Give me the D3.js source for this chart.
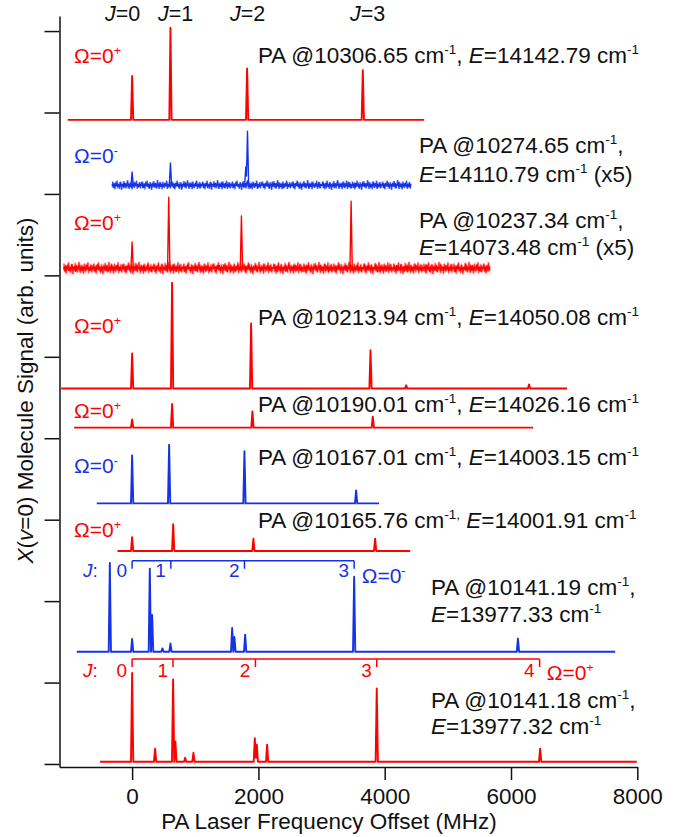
<!DOCTYPE html>
<html><head><meta charset="utf-8">
<script src="https://cdn.jsdelivr.net/npm/d3@7"></script>
<style>
body{margin:0;background:#fff}
svg{display:block;font-family:"Liberation Sans",Arial,Helvetica,sans-serif}
text{white-space:pre}
</style>
</head><body>
<svg id="chart" width="677" height="837"></svg>
<script>
// ---------------- DATA ----------------
const xTickValues = [0, 2000, 4000, 6000, 8000];
const yTickValues = [0, 1, 2, 3, 4, 5, 6, 7, 8, 9];

// trace baselines (arb. units, offset stacking), frequency range (MHz)
const traceBaselines = [7.91, 7.11, 6.09, 4.61, 4.13, 3.20, 2.615, 1.379, 0.028];
const traceRanges = [
  [-1020, 4625], [-322, 4420], [-1090, 5670], [-1124, 6888], [-918, 6350],
  [-560, 3911], [-232, 4403], [-876, 7650], [-507, 7992]
];
// peaks: [frequency offset (MHz), height (arb. units)]
const tracePeaks = [
  [[0, 0.54], [607, 1.13], [1821, 0.63], [3653, 0.61]],
  [[0, 0.16], [607, 0.27], [1800, 0.22], [1827, 0.66]],
  [[0, 0.32], [580, 0.87], [1731, 0.64], [3468, 0.82]],
  [[0, 0.43], [633, 1.30], [1884, 0.80], [3775, 0.47], [4340, 0.04], [6286, 0.05]],
  [[0, 0.10], [633, 0.29], [1905, 0.20], [3811, 0.135]],
  [[0, 0.59], [586, 0.72], [1779, 0.64], [3547, 0.16]],
  [[0, 0.17], [650, 0.33], [1921, 0.15], [3848, 0.15]],
  [[-353, 1.09], [0, 0.155], [280, 1.02], [317, 0.45], [480, 0.04], [607, 0.10],
   [1584, 0.29], [1620, 0.18], [1790, 0.21], [3516, 0.92], [6110, 0.16]],
  [[0, 1.09], [364, 0.16], [649, 1.01], [685, 0.25], [840, 0.05], [971, 0.11],
   [1943, 0.29], [1975, 0.21], [2138, 0.21], [3874, 0.90], [6461, 0.16]]
];
const traceParity = ["+", "-", "+", "+", "+", "-", "+", "-", "+"];
const traceLabels = [
  ["PA @10306.65 cm^{-1}, *E*=14142.79 cm^{-1}"],
  ["PA @10274.65 cm^{-1},", "*E*=14110.79 cm^{-1} (x5)"],
  ["PA @10237.34 cm^{-1},", "*E*=14073.48 cm^{-1} (x5)"],
  ["PA @10213.94 cm^{-1}, *E*=14050.08 cm^{-1}"],
  ["PA @10190.01 cm^{-1}, *E*=14026.16 cm^{-1}"],
  ["PA @10167.01 cm^{-1}, *E*=14003.15 cm^{-1}"],
  ["PA @10165.76 cm^{-1,} *E*=14001.91 cm^{-1}"],
  ["PA @10141.19 cm^{-1},", "*E*=13977.33 cm^{-1}"],
  ["PA @10141.18 cm^{-1},", "*E*=13977.32 cm^{-1}"]
];
const topJLabels = ["*J*=0", "*J*=1", "*J*=2", "*J*=3"];

// rotational assignment brackets
const bracketBlueJ = ["0", "1", "2", "3"];
const bracketBlueFreq = [0, 613, 1779, 3516];
const bracketBlueLevel = 2.496;
const bracketRedJ = ["0", "1", "2", "3", "4"];
const bracketRedFreq = [0, 647, 1953, 3874, 6453];
const bracketRedLevel = 1.289;

const xTitle = "PA Laser Frequency Offset (MHz)";
const yTitle = "*X*(*v*=0) Molecule Signal (arb. units)";

// ---------------- STYLE / LAYOUT ----------------
const RED = "#ff0000", BLUE = "#1432e6", INK = "#111";
const parityColor = p => p === "+" ? RED : BLUE;
const noiseHalf = [0, 5, 6.5, 0, 0, 0, 0, 0, 0];   // px half-height of noise band
// decorative texture tiles used to render the noisy (x5) baselines
const textureA = [0.5,0.15,0.8,0.35,0.95,0.3,0.6,0.05,0.7,0.45,0.9,0.2,0.55,1,0.4,0.65,0.1,0.75,0.3,0.85,
                  0.5,0.0,0.6,0.9,0.25,0.7,0.4,0.95,0.15,0.55,0.8,0.3,0.65,0.05,0.9,0.45,0.7,0.2,0.85,0.5];
const textureB = [0.5,0.7,0.3,0.6,0.2,0.8,0.45,0.55,0.1,0.65,0.4,0.9,0.35,0.6,0.25,0.75,0.5,0.3,0.85,0.45,
                  0.6,0.15,0.5];
const omegaPos = [[74,63],[74,163],[74,230],[74,333],[74,418],[74,473],[74,537]];
const labelPos = [[[258,63]],[[419,153],[419,182]],[[419,228],[419,255]],[[258,325]],[[258,411.5]],
                  [[258,465]],[[258,528]],[[431,595],[431,621.5]],[[431,708],[431,734]]];
const topJPos = [105, 158, 230, 350];
const FS = 22.5;

const svg = d3.select("#chart");
const x = d3.scaleLinear().domain([-1150, 8000]).range([59.5, 637.3]);
const y = d3.scaleLinear().domain([-0.037, 9.185]).range([767, 16]);

function rich(sel, px, py, str, size, color, anchor) {
  const t = sel.append("text").attr("x", px).attr("y", py)
    .attr("font-size", size).attr("fill", color).attr("text-anchor", anchor || "start");
  const toks = str.match(/(\^\{[^}]*\}|\*[^*]*\*|[^\^*]+)/g);
  const shift = size * 0.4;
  let shifted = false;
  toks.forEach(m => {
    let txt = m, sup = false, it = false;
    if (m.startsWith("^{")) { txt = m.slice(2, -1); sup = true; }
    else if (m.startsWith("*")) { txt = m.slice(1, -1); it = true; }
    const ts = t.append("tspan").text(txt);
    if (sup) { ts.attr("font-size", size * 0.6).attr("dy", -shift); shifted = true; }
    else if (shifted) { ts.attr("dy", shift); shifted = false; }
    if (it) ts.attr("font-style", "italic");
  });
  return t;
}

// ---------- axes ----------
const xAxis = svg.append("g").attr("transform", `translate(0,${y(-0.037)})`)
  .call(d3.axisBottom(x).tickValues(xTickValues).tickFormat(d3.format("d"))
    .tickSize(13).tickSizeOuter(0).tickPadding(8));
xAxis.selectAll("text").attr("font-size", FS).attr("fill", INK).attr("font-family", null);
xAxis.selectAll("line,path").attr("stroke", INK).attr("stroke-width", 1.5);

const yAxis = svg.append("g").attr("transform", `translate(${x(-1150)},0)`)
  .call(d3.axisLeft(y).tickValues(yTickValues).tickSize(15).tickSizeOuter(0).tickFormat(""));
yAxis.selectAll("line,path").attr("stroke", INK).attr("stroke-width", 1.5);

rich(svg, 329, 829, xTitle, FS, INK, "middle");
rich(svg.append("g").attr("transform", "translate(33,390.5) rotate(-90)"), 0, 0, yTitle, FS, INK, "middle");

// ---------- traces ----------
const defs = svg.append("defs");
const W = 18; // peak half-width in MHz
function addTexture(id, tex, step, bx, by, a, color) {
  const tw = tex.length * step;
  const pat = defs.append("pattern").attr("id", id)
    .attr("patternUnits", "userSpaceOnUse").attr("x", bx).attr("y", by)
    .attr("width", tw).attr("height", 2 * a);
  pat.append("polyline")
    .attr("points", tex.map((v, k) => `${k * step},${v * 2 * a}`).join(" ") + ` ${tw},${tex[0] * 2 * a}`)
    .attr("fill", "none").attr("stroke", color).attr("stroke-width", 1.1);
}
traceBaselines.forEach((base, i) => {
  const [x0, x1] = traceRanges[i];
  const peaks = tracePeaks[i];
  const color = parityColor(traceParity[i]);
  const xs = [x0, x1];
  peaks.forEach(([p]) => xs.push(p - W, p, p + W));
  const pts = Array.from(new Set(xs)).filter(v => v >= x0 && v <= x1).sort((a, b) => a - b)
    .map(f => [f, base + d3.max(peaks, ([p, h]) => Math.max(0, h * (1 - Math.abs(f - p) / W)))]);

  if (noiseHalf[i] > 0) {
    const a = noiseHalf[i];
    const bx = x(x0), by = y(base) - a;
    addTexture("nA" + i, textureA, 0.75, bx, by, a, color);
    addTexture("nB" + i, textureB, 1.1, bx, by + a * 0.25, a * 0.75, color);
    svg.append("rect").attr("x", bx).attr("y", by).attr("width", x(x1) - bx).attr("height", 2 * a)
      .attr("fill", `url(#nA${i})`);
    svg.append("rect").attr("x", bx).attr("y", by + a * 0.25).attr("width", x(x1) - bx).attr("height", 1.5 * a)
      .attr("fill", `url(#nB${i})`);
  }
  svg.append("path").attr("d", d3.line().x(d => x(d[0])).y(d => y(d[1]))(pts))
    .attr("fill", "none").attr("stroke", color)
    .attr("stroke-width", noiseHalf[i] > 0 ? 1.4 : 1.9).attr("stroke-linejoin", "round");

  if (i < omegaPos.length)
    rich(svg, omegaPos[i][0], omegaPos[i][1], "Ω=0^{" + traceParity[i] + "}", 21, color);
  traceLabels[i].forEach((line, k) => rich(svg, labelPos[i][k][0], labelPos[i][k][1], line, FS, INK));
});

// ---------- top J labels ----------
topJLabels.forEach((s, k) => rich(svg, topJPos[k], 20.5, s, 21.5, INK));

// ---------- brackets ----------
function bracket(freqs, labels, level, color, omegaX, omegaY, parity, labelDy) {
  const g = svg.append("g");
  const yl = y(level), tick = 8;
  g.append("line").attr("x1", x(freqs[0])).attr("x2", x(freqs[freqs.length - 1]))
    .attr("y1", yl).attr("y2", yl).attr("stroke", color).attr("stroke-width", 1.5);
  freqs.forEach((f, k) => {
    g.append("line").attr("x1", x(f)).attr("x2", x(f)).attr("y1", yl).attr("y2", yl + tick)
      .attr("stroke", color).attr("stroke-width", 1.5);
    rich(g, x(f) - 5, yl + labelDy, labels[k], 19, color, "end");
  });
  rich(g, 83, yl + labelDy, "*J*:", 19, color);
  rich(g, omegaX, omegaY, "Ω=0^{" + parity + "}", 21, color);
}
bracket(bracketBlueFreq, bracketBlueJ, bracketBlueLevel, BLUE, 361.7, 583, "-", 16.5);
bracket(bracketRedFreq, bracketRedJ, bracketRedLevel, RED, 546.7, 680, "+", 17.5);
</script>
</body></html>
